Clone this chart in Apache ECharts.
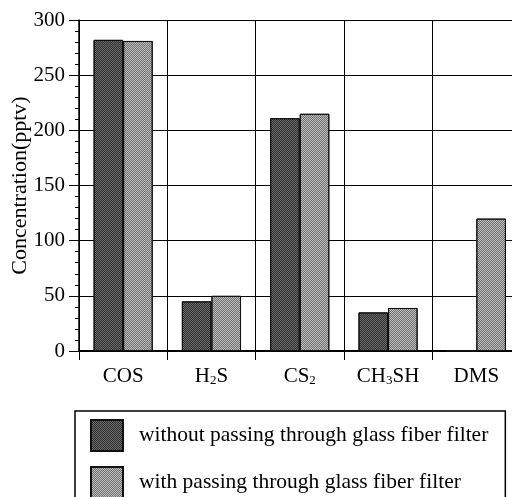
<!DOCTYPE html>
<html><head><meta charset="utf-8">
<script src="https://cdn.jsdelivr.net/npm/echarts@6/dist/echarts.min.js"></script>
<style>html,body{margin:0;padding:0;background:#fff}#c{width:512px;height:497px}</style>
</head><body><div id="c"></div>
<script>
var categories = ['COS', 'H{s|2}S', 'CS{s|2}', 'CH{s|3}SH', 'DMS'];
var withoutFilter = [282, 45, 211, 35, 0];
var withFilter = [281, 50, 215, 39, 120];
var seriesNames = ['without passing through glass fiber filter', 'with passing through glass fiber filter'];
var yTicks = {min: 0, max: 300, interval: 50};
var yName = 'Concentration(pptv)';

var FONT = 'Liberation Serif';
function dither(c) {
  return {symbol: 'rect', symbolSize: 1, color: c,
          dashArrayX: [[1, 1], [0, 1, 1, 0]], dashArrayY: [1, 0], rotation: 0, maxTileWidth: 64, maxTileHeight: 64};
}
var chart = echarts.init(document.getElementById('c'));
chart.setOption({
  animation: false,
  backgroundColor: '#fff',
  textStyle: {fontFamily: FONT, color: '#000'},
  grid: {left: 79, top: 20, width: 441.5, height: 331, containLabel: false, outerBoundsMode: 'none'},
  legend: {
    orient: 'vertical', left: 75, top: 411, height: 80,
    padding: [8, 17, 8, 15],
    icon: 'rect',
    itemWidth: 32, itemHeight: 31, itemGap: 14,
    borderColor: '#000', borderWidth: 1.5,
    textStyle: {fontFamily: FONT, fontSize: 21.5, color: '#000', padding: [0, 0, 0, 11]},
    data: seriesNames
  },
  xAxis: {
    type: 'category', data: categories, boundaryGap: true,
    axisLine: {lineStyle: {color: '#000', width: 2}},
    axisTick: {show: true, length: 9, inside: false, lineStyle: {color: '#000', width: 1}},
    splitLine: {show: true, lineStyle: {color: '#000', width: 1}},
    axisLabel: {
      interval: 0, margin: 15, fontFamily: FONT, fontSize: 21, color: '#000',
      rich: {s: {fontFamily: FONT, fontSize: 13, color: '#000', verticalAlign: 'bottom', padding: [6, 0, 0, 0]}}
    }
  },
  yAxis: {
    type: 'value', min: yTicks.min, max: yTicks.max, interval: yTicks.interval,
    name: yName, nameLocation: 'middle', nameGap: 48, nameRotate: 90, nameMoveOverlap: false,
    nameTextStyle: {fontFamily: FONT, fontSize: 22, color: '#000'},
    axisLine: {show: true, lineStyle: {color: '#000', width: 1.5}},
    axisTick: {show: true, length: 10, lineStyle: {color: '#000', width: 1}},
    minorTick: {show: true, splitNumber: 5, length: 4, lineStyle: {color: '#000', width: 1}},
    splitLine: {show: true, lineStyle: {color: '#000', width: 1}},
    axisLabel: {margin: 14, fontFamily: FONT, fontSize: 21, color: '#000'}
  },
  series: [
    {name: seriesNames[0], type: 'bar', data: withoutFilter, barGap: '0%', barCategoryGap: '33%',
     itemStyle: {color: '#6a6a6a', borderColor: '#111', borderWidth: 1, decal: dither('rgba(0,0,0,0.55)')}},
    {name: seriesNames[1], type: 'bar', data: withFilter, barGap: '0%', barCategoryGap: '33%',
     itemStyle: {color: '#bdbdbd', borderColor: '#111', borderWidth: 1, decal: dither('rgba(0,0,0,0.4)')}}
  ]
});
</script></body></html>
